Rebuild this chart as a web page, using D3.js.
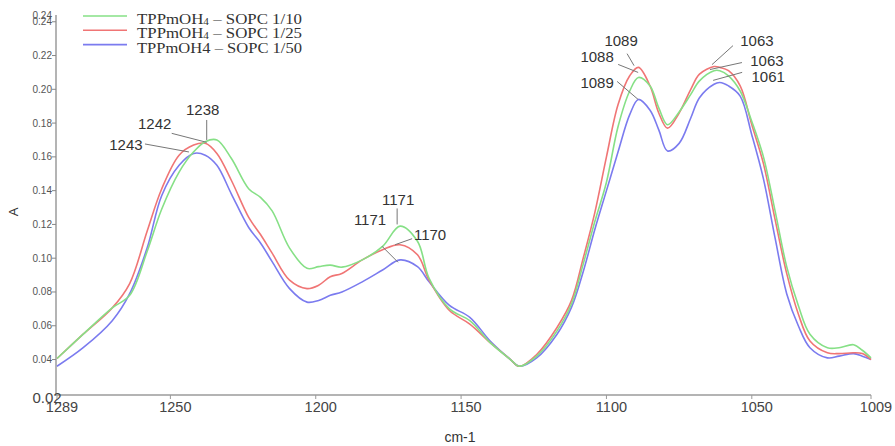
<!DOCTYPE html>
<html><head><meta charset="utf-8">
<script src="https://cdn.jsdelivr.net/npm/d3@7"></script>
<style>body{margin:0;background:#fff}svg{display:block}</style>
</head><body>
<svg id="c" width="895" height="446"></svg>
<script>
const wavenumbers = [1289,1280,1270,1264,1258,1253,1247,1242,1238,1234,1229,1223,1219,1215,1209,1203,1199,1195,1191,1184,1177,1171,1165,1161,1154,1147,1140,1133,1130,1124,1117,1112,1108,1104,1100,1096,1092,1089,1085,1082,1079,1075,1071,1068,1063,1061,1058,1054,1050,1046,1042,1038,1034,1030,1024,1020,1015,1012,1009];
const sopc10 = [0.0406,0.055,0.0706,0.078,0.104,0.129,0.151,0.163,0.169,0.170,0.159,0.141,0.136,0.128,0.106,0.094,0.095,0.0959,0.0947,0.099,0.107,0.119,0.110,0.088,0.070,0.063,0.050,0.040,0.036,0.042,0.057,0.073,0.0965,0.1217,0.145,0.178,0.199,0.207,0.202,0.189,0.179,0.1866,0.197,0.205,0.211,0.211,0.208,0.199,0.181,0.160,0.128,0.095,0.072,0.055,0.047,0.047,0.0488,0.0455,0.041];
const sopc25 = [0.0406,0.055,0.0706,0.085,0.116,0.141,0.161,0.167,0.168,0.162,0.146,0.124,0.114,0.103,0.087,0.082,0.084,0.089,0.091,0.099,0.105,0.108,0.102,0.087,0.069,0.061,0.050,0.040,0.036,0.043,0.059,0.075,0.100,0.127,0.160,0.191,0.208,0.213,0.202,0.186,0.177,0.186,0.200,0.209,0.2135,0.213,0.211,0.202,0.179,0.156,0.123,0.091,0.067,0.051,0.044,0.0435,0.044,0.0435,0.040];
const sopc50 = [0.036,0.047,0.063,0.079,0.106,0.137,0.155,0.162,0.161,0.155,0.138,0.118,0.109,0.098,0.082,0.074,0.075,0.078,0.080,0.086,0.093,0.099,0.095,0.086,0.072,0.065,0.051,0.040,0.036,0.041,0.055,0.071,0.092,0.117,0.140,0.163,0.185,0.194,0.1876,0.176,0.1635,0.168,0.183,0.195,0.203,0.204,0.202,0.196,0.173,0.147,0.112,0.079,0.060,0.047,0.041,0.042,0.0435,0.042,0.040];
const seriesNames = ["TPPmOH|4| \u2013 SOPC 1/10","TPPmOH|4| \u2013 SOPC 1/25","TPPmOH4 \u2013 SOPC 1/50"];
const seriesColors = ["#86e086","#f07575","#7b7bef"];
const xTicks = [1250,1200,1150,1100,1050];
const xEnds = [1289,1009];
const yTicks = [0.04,0.06,0.08,0.10,0.12,0.14,0.16,0.18,0.20,0.22,0.24];
const yEnds = [0.019,0.244];
const yEndLabels = ["0.02","0.24"];
// annotations: label, target wavenumber, target absorbance, text offset, leader start offset
const annLabels = ["1238","1242","1243","1171","1171","1170","1089","1088","1089","1063","1063","1061"];
const annWn = [1237.5,1237.5,1243.6,1172,1171.7,1172.7,1090.5,1089.1,1089.1,1063.7,1064.4,1063.3];
const annVal = [0.170,0.1686,0.1629,0.120,0.0976,0.108,0.214,0.210,0.194,0.2146,0.2117,0.2053];
const annText = [[-4,-25],[-52,-13],[-63,-2],[1,-19],[-28,-37],[35,-5],[-13,-20],[-41,-10],[-41,-11],[45,-19],[57,-4],[55,2]];
const annStart = [[0,-20],[-35,-9],[-44,-8],[0,-16],[-16,-16],[17,-6],[-7,-12],[-20,-8],[-21,-18],[21,-19],[32,-7],[29,-8]];

const svg = d3.select("#c");
const x = d3.scaleLinear().domain([1289,1009]).range([57,871]);
const y = d3.scaleLinear().domain(yEnds).range([395,15]);
const axisCol = "#b4b4b4";

svg.append("line").attr("x1",56).attr("x2",56).attr("y1",y(yEnds[1])).attr("y2",y(yEnds[0])+1).attr("stroke",axisCol).attr("stroke-width",2);
svg.append("line").attr("x1",55).attr("x2",x(1009)).attr("y1",395).attr("y2",395).attr("stroke",axisCol).attr("stroke-width",2);

const yg = svg.append("g");
yTicks.forEach(t=>{
  yg.append("line").attr("x1",52).attr("x2",56).attr("y1",y(t)).attr("y2",y(t)).attr("stroke","#888").attr("stroke-width",1);
  yg.append("text").attr("x",52).attr("y",y(t)+3.5).attr("text-anchor","end")
    .attr("font-family","Liberation Sans, Arial, sans-serif").attr("font-size",10).attr("fill","#555").text(t.toFixed(2));
});
yg.append("text").attr("x",52).attr("y",y(yEnds[1])+4).attr("text-anchor","end")
  .attr("font-family","Liberation Sans, Arial, sans-serif").attr("font-size",10).attr("fill","#555").text(yEndLabels[1]);
yg.append("text").attr("x",47).attr("y",403).attr("text-anchor","middle")
  .attr("font-family","Liberation Sans, Arial, sans-serif").attr("font-size",15).attr("fill","#444").text(yEndLabels[0]);

const xg = svg.append("g");
xTicks.concat(xEnds).forEach(t=>{
  xg.append("line").attr("x1",x(t)).attr("x2",x(t)).attr("y1",395).attr("y2",399).attr("stroke","#999").attr("stroke-width",1);
  xg.append("text").attr("x",x(t)+5).attr("y",412).attr("text-anchor","middle")
    .attr("font-family","Liberation Sans, Arial, sans-serif").attr("font-size",14.5).attr("fill","#444").text(t);
});

svg.append("text").attr("transform","translate(18,212) rotate(-90)").attr("text-anchor","middle")
  .attr("font-family","Liberation Sans, Arial, sans-serif").attr("font-size",13).attr("fill","#333").text("A");
svg.append("text").attr("x",460).attr("y",442).attr("text-anchor","middle")
  .attr("font-family","Liberation Sans, Arial, sans-serif").attr("font-size",14).attr("fill","#333").text("cm-1");

const allSeries = [sopc10, sopc25, sopc50];
const line = d3.line().x((d,i)=>x(wavenumbers[i])).y(d=>y(d)).curve(d3.curveCatmullRom.alpha(0.5));
[2,1,0].forEach(k=>{
  svg.append("path").attr("d",line(allSeries[k])).attr("fill","none")
    .attr("stroke",seriesColors[k]).attr("stroke-width",1.6);
});

const ag = svg.append("g");
annLabels.forEach((lab,i)=>{
  const tx = x(annWn[i]), ty = y(annVal[i]);
  ag.append("line").attr("x1",tx+annStart[i][0]).attr("y1",ty+annStart[i][1]).attr("x2",tx).attr("y2",ty)
    .attr("stroke","#777").attr("stroke-width",1);
  ag.append("text").attr("x",tx+annText[i][0]).attr("y",ty+annText[i][1]).attr("text-anchor","middle")
    .attr("font-family","Liberation Sans, Arial, sans-serif").attr("font-size",15).attr("fill","#333").text(lab);
});

const lg = svg.append("g");
seriesNames.forEach((nm,i)=>{
  const ly = 16 + i*14.3;
  lg.append("line").attr("x1",83).attr("x2",127).attr("y1",ly).attr("y2",ly).attr("stroke",seriesColors[i]).attr("stroke-width",1.6);
  const t = lg.append("text").attr("x",137).attr("y",ly+8)
    .attr("font-family","Liberation Serif, Times New Roman, serif").attr("font-size",15).attr("fill","#333")
    .attr("textLength",165).attr("lengthAdjust","spacingAndGlyphs");
  const parts = nm.split("|");
  if (parts.length===3){
    t.append("tspan").text(parts[0]);
    t.append("tspan").attr("font-size",10).attr("dy",1).text(parts[1]);
    t.append("tspan").attr("dy",-1).text(parts[2]);
  } else {
    t.text(nm);
  }
});
</script>
</body></html>
